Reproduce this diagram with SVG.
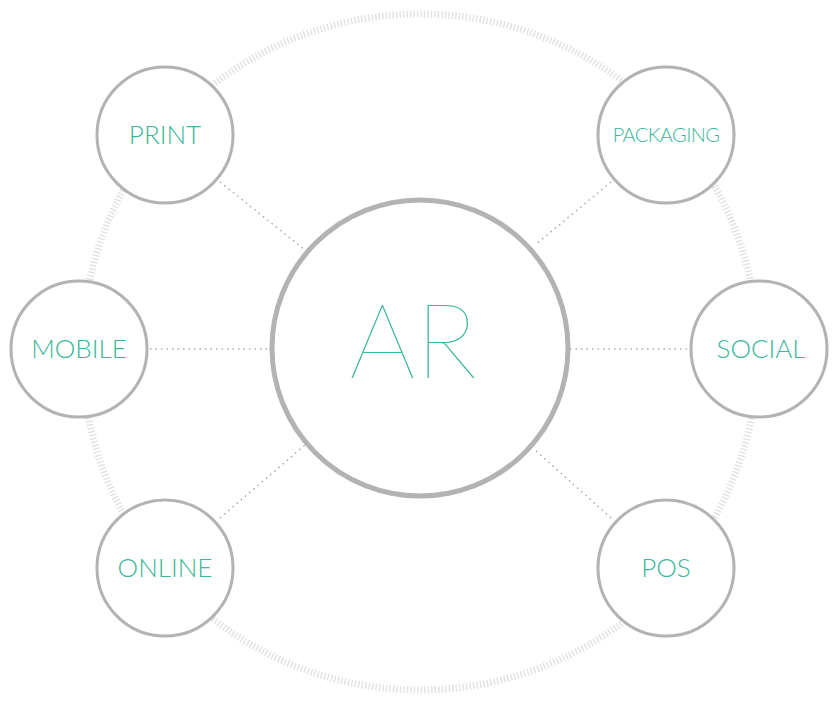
<svg xmlns="http://www.w3.org/2000/svg" width="838" height="704" viewBox="0 0 838 704">
<style>
.n{fill:#fff;stroke:#b3b3b3;stroke-width:3}
.t{fill:#3ab79b;font-family:Lato,"Open Sans","Liberation Sans",sans-serif;font-weight:300;text-anchor:middle;font-size:26px}
.c{stroke:#aaa;stroke-width:1.5;stroke-dasharray:1.5 4;fill:none}
</style>
<rect width="838" height="704" fill="#fff"/>
<circle cx="420" cy="352" r="338" fill="none" stroke="#e3e3e3" stroke-width="7" stroke-dasharray="1.5 2"/>
<g id="connectors">
<line class="c" x1="220" y1="182" x2="305" y2="250"/>
<line class="c" x1="611" y1="182" x2="535" y2="245"/>
<line class="c" x1="150" y1="349" x2="270" y2="349"/>
<line class="c" x1="570" y1="349" x2="690" y2="349"/>
<line class="c" x1="220" y1="518" x2="305" y2="445"/>
<line class="c" x1="611" y1="518" x2="535" y2="450"/>
</g>
<g id="AR"><circle class="n" cx="420" cy="348" r="148" style="stroke-width:5"/><text class="t" x="413" y="378" style="font-size:104px;font-weight:100">AR</text></g>
<g id="PRINT"><circle class="n" cx="165" cy="135" r="68"/><text class="t" x="165" y="144">PRINT</text></g>
<g id="PACKAGING"><circle class="n" cx="666" cy="135" r="68"/><text class="t" x="666" y="142" style="font-size:20px;letter-spacing:-0.6px">PACKAGING</text></g>
<g id="MOBILE"><circle class="n" cx="79" cy="349" r="68"/><text class="t" x="79" y="358">MOBILE</text></g>
<g id="SOCIAL"><circle class="n" cx="759" cy="349" r="68"/><text class="t" x="761" y="358">SOCIAL</text></g>
<g id="ONLINE"><circle class="n" cx="165" cy="568" r="68"/><text class="t" x="165" y="577">ONLINE</text></g>
<g id="POS"><circle class="n" cx="666" cy="568" r="68"/><text class="t" x="666" y="577">POS</text></g>
</svg>
